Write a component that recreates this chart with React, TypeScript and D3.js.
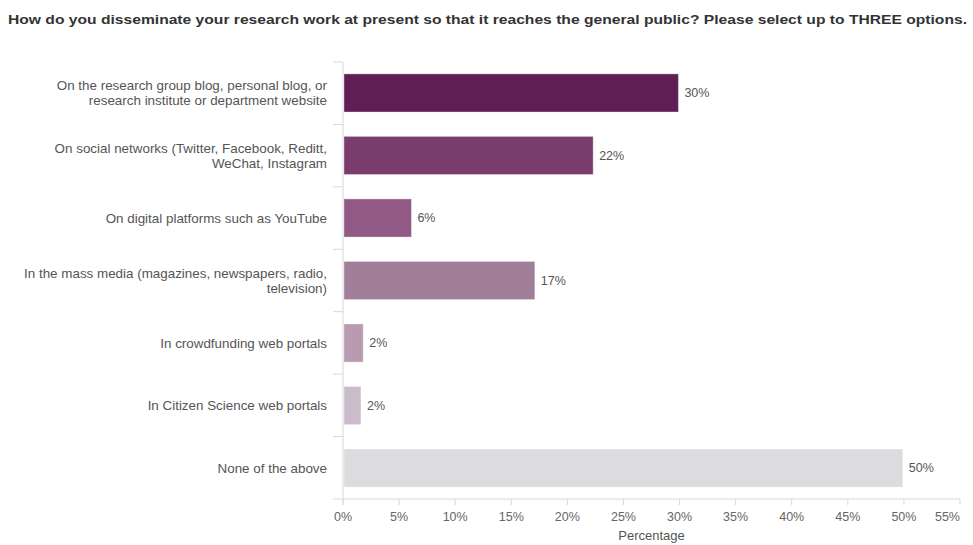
import React from "react";
import * as d3 from "d3";

const title =
  "How do you disseminate your research work at present so that it reaches the general public? Please select up to THREE options.";

const categories: string[][] = [
  ["On the research group blog, personal blog, or", "research institute or department website"],
  ["On social networks (Twitter, Facebook, Reditt,", "WeChat, Instagram"],
  ["On digital platforms such as YouTube"],
  ["In the mass media (magazines, newspapers, radio,", "television)"],
  ["In crowdfunding web portals"],
  ["In Citizen Science web portals"],
  ["None of the above"],
];

const values = [29.9, 22.3, 6.1, 17.1, 1.8, 1.6, 49.9];
const valueLabels = ["30%", "22%", "6%", "17%", "2%", "2%", "50%"];
const colors = ["#5f1f55", "#7a3c6c", "#905a84", "#a17f98", "#b89bb0", "#cbbccb", "#dcdcde"];
const xTicks = [0, 5, 10, 15, 20, 25, 30, 35, 40, 45, 50, 55];

const W = 973;
const H = 545;
const left = 343;
const right = 960;
const top = 62;
const bottom = 499;

export default function App() {
  const x = d3.scaleLinear().domain([0, 55]).range([left, right]);
  const ids = categories.map((_, i) => String(i));
  const y = d3.scaleBand<string>().domain(ids).range([top, bottom]).paddingInner(0.39).paddingOuter(0.19);
  const boundaries = d3.range(categories.length + 1).map((i) => top + i * ((bottom - top) / categories.length));
  const font = "Arial, 'Liberation Sans', Helvetica, sans-serif";

  return (
    <svg
      width={W}
      height={H}
      style={{ position: "absolute", left: 0, top: 0, background: "#fff" }}
      fontFamily={font}
    >
      <text
        x={8}
        y={24}
        fontSize={13}
        fontWeight="bold"
        fill="#333"
        textLength={959}
        lengthAdjust="spacingAndGlyphs"
      >
        {title}
      </text>

      {/* bars */}
      {values.map((v, i) => (
        <g key={i}>
          <rect
            x={x(0) + 1}
            y={y(ids[i])}
            width={x(v) - x(0) - 1}
            height={y.bandwidth()}
            fill={colors[i]}
            stroke="#ffffff"
            strokeOpacity={0.35}
            strokeWidth={1}
          />
          <text
            x={x(v) + 6}
            y={(y(ids[i]) as number) + y.bandwidth() / 2}
            dy="0.35em"
            fontSize={12.5}
            fill="#555"
          >
            {valueLabels[i]}
          </text>
        </g>
      ))}

      {/* category labels */}
      {categories.map((lines, i) => {
        const cy = (y(ids[i]) as number) + y.bandwidth() / 2;
        const lh = 15;
        const startY = cy - ((lines.length - 1) * lh) / 2;
        return (
          <text key={i} textAnchor="end" fontSize={13.4} fill="#555">
            {lines.map((l, j) => (
              <tspan key={j} x={327} y={startY + j * lh} dy="0.35em">
                {l}
              </tspan>
            ))}
          </text>
        );
      })}

      {/* y axis */}
      <line x1={left} x2={left} y1={top} y2={bottom + 6} stroke="#d6d8e0" strokeWidth={1} />
      {boundaries.slice(0, -1).map((b, i) => (
        <line key={i} x1={left - 10} x2={left} y1={b} y2={b} stroke="#d6d8e0" strokeWidth={1} />
      ))}

      {/* x axis */}
      <line x1={left - 10} x2={right} y1={bottom} y2={bottom} stroke="#d6d8e0" strokeWidth={1} />
      {xTicks.map((t, i) => (
        <g key={t}>
          <line x1={x(t)} x2={x(t)} y1={bottom} y2={bottom + 6} stroke="#d6d8e0" strokeWidth={1} />
          <text
            x={x(t)}
            y={bottom + 22}
            textAnchor={i === xTicks.length - 1 ? "end" : "middle"}
            fontSize={12.5}
            fill="#666"
          >
            {t + "%"}
          </text>
        </g>
      ))}
      <text x={(left + right) / 2} y={bottom + 41} textAnchor="middle" fontSize={13} fill="#555">
        Percentage
      </text>
    </svg>
  );
}
